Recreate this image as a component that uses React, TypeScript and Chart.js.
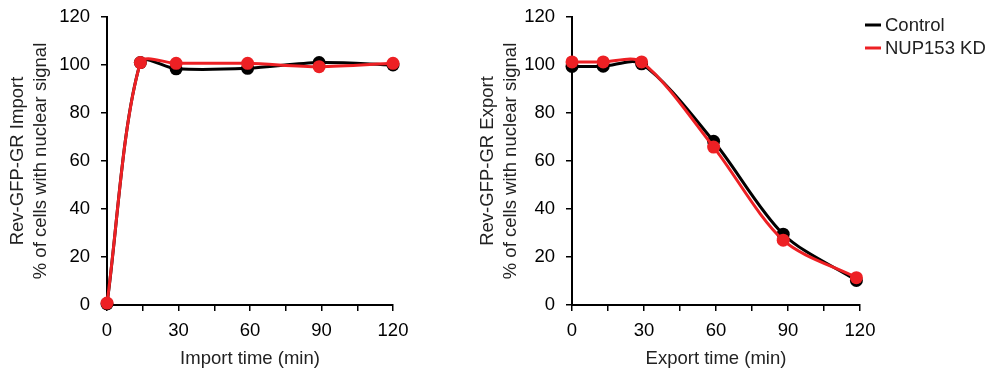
import React, { useEffect, useRef } from "react";
import { Chart, registerables } from "chart.js";

Chart.register(...registerables);

const seriesNames = ["Control", "NUP153 KD"];
const seriesColors = ["#000000", "#ED2024"];

const importTimes = [0, 14, 29, 59, 89, 120];
const importControl = [0.5, 101, 98.4, 98.6, 101, 100];
const importKD = [0.8, 101, 100.7, 100.7, 99.3, 100.7];

const exportTimesControl = [0, 13, 29, 59, 88, 118.5];
const exportTimesKD = [0, 13, 29, 59, 88, 118.5];
const exportControl = [99.4, 99.5, 100.5, 68.2, 29.5, 10.2];
const exportKD = [101.3, 101.3, 101.3, 65.8, 27, 11.4];

const yTitleImport = ["Rev-GFP-GR Import", "% of cells with nuclear signal"];
const yTitleExport = ["Rev-GFP-GR Export", "% of cells with nuclear signal"];
const xTitleImport = "Import time (min)";
const xTitleExport = "Export time (min)";

const FONT = "'Liberation Sans', Arial, Helvetica, sans-serif";
const H = 372;

type Cfg = {
  width: number;
  plotLeft: number;
  plotRight: number;
  yTitle: string[];
  xTitle: string;
  yTitlePad: number;
  xs: number[][];
  ys: number[][];
  legend: boolean;
};

function makeData(xs: number[], ys: number[]) {
  return xs.map((x, i) => ({ x, y: ys[i] }));
}

function ChartPanel({ cfg, left }: { cfg: Cfg; left: number }) {
  const ref = useRef<HTMLCanvasElement | null>(null);
  useEffect(() => {
    if (!ref.current) return;
    const plotTop = 17;
    const plotBottom = 305;
    const legendPlugin = {
      id: "customLegend",
      afterDraw(chart: any) {
        if (!cfg.legend) return;
        const ctx = chart.ctx;
        ctx.save();
        const baseX = 865 - left;
        const rows = [25, 48];
        seriesNames.forEach((name, i) => {
          const y = rows[i];
          ctx.strokeStyle = seriesColors[i];
          ctx.lineWidth = 3;
          ctx.beginPath();
          ctx.moveTo(baseX, y);
          ctx.lineTo(baseX + 16, y);
          ctx.stroke();
          ctx.fillStyle = "#222";
          ctx.font = `18.5px ${FONT}`;
          ctx.textBaseline = "middle";
          ctx.textAlign = "left";
          ctx.fillText(name, baseX + 20, y + 1);
        });
        ctx.restore();
      },
    };
    const chart = new Chart(ref.current, {
      type: "line",
      data: {
        datasets: seriesNames.map((name, i) => ({
          label: name,
          data: makeData(cfg.xs[i], cfg.ys[i]),
          borderColor: seriesColors[i],
          backgroundColor: seriesColors[i],
          pointBackgroundColor: seriesColors[i],
          pointBorderColor: seriesColors[i],
          pointRadius: 6.5,
          pointBorderWidth: 0,
          borderWidth: 3,
          tension: 0.3,
          clip: false as any,
          order: i === 0 ? 1 : 0,
          fill: false,
        })),
      },
      options: {
        animation: false,
        responsive: false,
        maintainAspectRatio: false,
        layout: {
          padding: { left: 0, top: plotTop, right: cfg.width - cfg.plotRight, bottom: 0 },
        },
        plugins: {
          legend: { display: false },
          tooltip: { enabled: false },
        },
        scales: {
          x: {
            type: "linear",
            min: 0,
            max: 120,
            afterFit: (s: any) => {
              s.height = H - plotBottom;
              s.paddingLeft = 0;
              s.paddingRight = 0;
            },
            ticks: {
              stepSize: 15,
              autoSkip: false,
              maxRotation: 0,
              color: "#000",
              padding: 9,
              font: { family: FONT, size: 18.5 },
              callback: (v: any) => (Number(v) % 30 === 0 ? String(v) : ""),
            },
            grid: {
              display: true,
              drawOnChartArea: false,
              drawTicks: true,
              tickLength: 6,
              color: "#000",
              lineWidth: 1.5,
            },
            border: { display: true, color: "#000", width: 2 },
            title: {
              display: true,
              text: cfg.xTitle,
              color: "#222",
              font: { family: FONT, size: 18.5, lineHeight: 1.2 },
              padding: { top: 0, bottom: 2 },
            },
          },
          y: {
            type: "linear",
            min: 0,
            max: 120,
            afterFit: (s: any) => {
              s.width = cfg.plotLeft;
              s.paddingTop = 0;
              s.paddingBottom = 0;
            },
            ticks: {
              stepSize: 20,
              color: "#000",
              padding: 11,
              font: { family: FONT, size: 18.5 },
            },
            grid: {
              display: true,
              drawOnChartArea: false,
              drawTicks: true,
              tickLength: 6,
              color: "#000",
              lineWidth: 1.5,
            },
            border: { display: true, color: "#000", width: 2 },
            title: {
              display: true,
              text: cfg.yTitle,
              color: "#222",
              font: { family: FONT, size: 18.5, lineHeight: 1.25 },
              padding: { top: cfg.yTitlePad, bottom: 0 },
            },
          },
        },
      },
      plugins: [legendPlugin],
    } as any);
    return () => chart.destroy();
  }, []);
  return (
    <div style={{ position: "absolute", left, top: 0, width: cfg.width, height: H }}>
      <canvas ref={ref} width={cfg.width} height={H} style={{ width: cfg.width, height: H }} />
    </div>
  );
}

export default function App() {
  const leftCfg: Cfg = {
    width: 440,
    plotLeft: 107,
    plotRight: 393,
    yTitle: yTitleImport,
    xTitle: xTitleImport,
    yTitlePad: 6,
    xs: [importTimes, importTimes],
    ys: [importControl, importKD],
    legend: false,
  };
  const rightCfg: Cfg = {
    width: 558,
    plotLeft: 132,
    plotRight: 420,
    yTitle: yTitleExport,
    xTitle: xTitleExport,
    yTitlePad: 36,
    xs: [exportTimesControl, exportTimesKD],
    ys: [exportControl, exportKD],
    legend: true,
  };
  return (
    <div style={{ position: "fixed", left: 0, top: 0, width: 998, height: H, background: "#fff" }}>
      <ChartPanel cfg={leftCfg} left={0} />
      <ChartPanel cfg={rightCfg} left={440} />
    </div>
  );
}
